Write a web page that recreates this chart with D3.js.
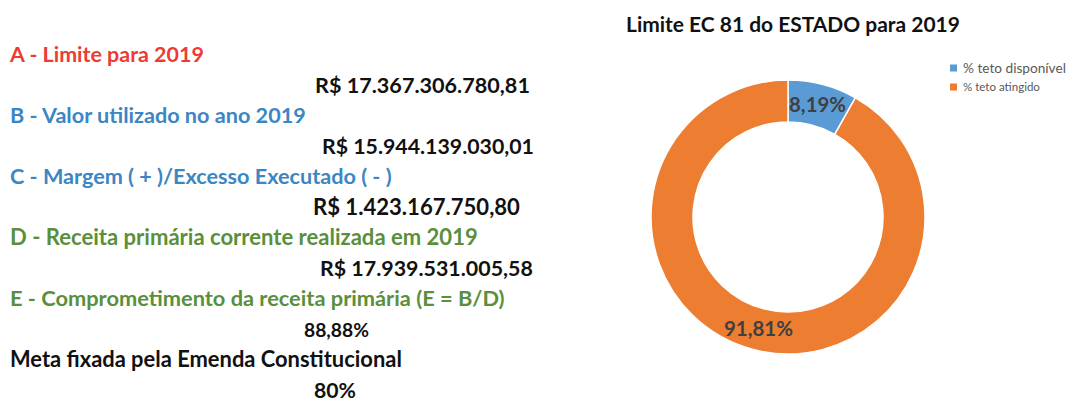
<!DOCTYPE html>
<html>
<head>
<meta charset="utf-8">
<script src="https://cdn.jsdelivr.net/npm/d3@7"></script>
<style>
  html, body { margin: 0; padding: 0; background: #fff; }
  svg { display: block; }
  text { font-family: Lato, "Open Sans", sans-serif; }
</style>
</head>
<body>
<svg id="chart" width="1067" height="404"></svg>
<script>
// ---- data ----
const title = "Limite EC 81 do ESTADO para 2019";
const categories = ["% teto disponível", "% teto atingido"];
const values = [8.19, 91.81];
const valueLabels = ["8,19%", "91,81%"];

const infoLabels = [
  "A - Limite para 2019",
  "B - Valor utilizado no ano 2019",
  "C - Margem ( + )/Excesso Executado ( - )",
  "D - Receita primária corrente realizada em 2019",
  "E - Comprometimento da receita primária (E = B/D)",
  "Meta fixada pela Emenda Constitucional"
];
const infoValues = [
  "R$ 17.367.306.780,81",
  "R$ 15.944.139.030,01",
  "R$ 1.423.167.750,80",
  "R$ 17.939.531.005,58",
  "88,88%",
  "80%"
];

// ---- layout / style ----
const labelColors = ["#ee3a35", "#3b86c3", "#3b86c3", "#5a8f3c", "#5a8f3c", "#111111"];
const labelWidths = [194, 296, 382, 468, 495, 392];
const valueX = [315, 322, 313, 320, 304, 314];
const valueWidths = [215, 212, 207, 213, 65, 42];
const sliceColors = ["#5B9BD5", "#ED7D31"];
const legendWidths = [103, 77];

const svg = d3.select("#chart");

function fit(sel, w) {
  sel.attr("font-size", 100);
  const l = sel.node().getComputedTextLength();
  sel.attr("font-size", 100 * w / l);
}

// left info block
const rowY = d3.scalePoint().domain(d3.range(12)).range([62, 398]);
infoLabels.forEach((t, i) => {
  const lab = svg.append("text")
    .attr("x", 10).attr("y", rowY(2 * i))
    .attr("font-weight", "bold")
    .attr("fill", labelColors[i])
    .text(t);
  fit(lab, labelWidths[i]);
  const val = svg.append("text")
    .attr("x", valueX[i]).attr("y", rowY(2 * i + 1))
    .attr("font-weight", "bold")
    .attr("fill", "#111111")
    .text(infoValues[i]);
  fit(val, valueWidths[i]);
});

// title
const tt = svg.append("text")
  .attr("x", 626).attr("y", 32)
  .attr("font-weight", "bold").attr("fill", "#111111")
  .text(title);
fit(tt, 334);

// donut
const cx = 788, cy = 217, rOuter = 137, rInner = 95;
const pie = d3.pie().sort(null).value(d => d);
const arc = d3.arc().innerRadius(rInner).outerRadius(rOuter);
const color = d3.scaleOrdinal().domain(categories).range(sliceColors);
const g = svg.append("g").attr("transform", `translate(${cx},${cy})`);
const arcs = pie(values);
g.selectAll("path").data(arcs).enter().append("path")
  .attr("d", arc)
  .attr("fill", (d, i) => color(categories[i]))
  .attr("stroke", "#ffffff").attr("stroke-width", 1.5);

const labW = [57, 69];
g.selectAll("text.lbl").data(arcs).enter().append("text")
  .attr("class", "lbl")
  .attr("transform", d => `translate(${arc.centroid(d)})`)
  .attr("text-anchor", "middle").attr("dy", "0.35em")
  .attr("font-weight", "bold").attr("fill", "#404040")
  .text((d, i) => valueLabels[i])
  .each(function (d, i) { fit(d3.select(this), labW[i]); });

// legend
const lg = svg.append("g");
categories.forEach((c, i) => {
  const y = 68 + i * 19;
  lg.append("rect").attr("x", 950).attr("y", y - 3.5).attr("width", 7).attr("height", 7)
    .attr("fill", color(c));
  const t = lg.append("text").attr("x", 963).attr("y", y).attr("dy", "0.35em")
    .attr("fill", "#595959").text(c);
  fit(t, legendWidths[i]);
});
</script>
</body>
</html>
